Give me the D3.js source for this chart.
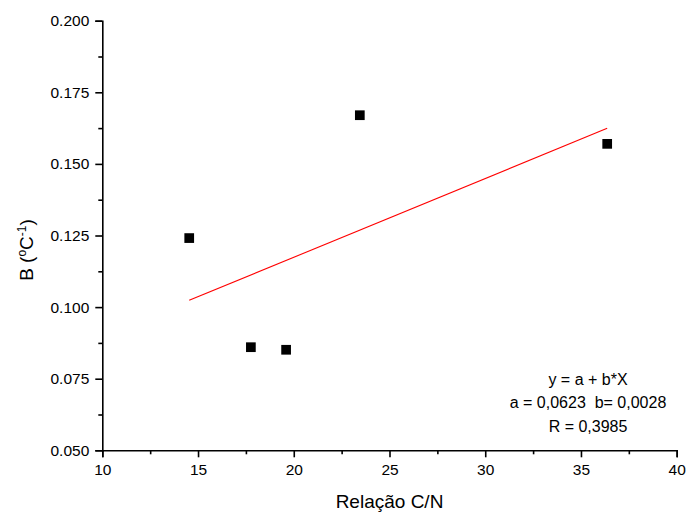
<!DOCTYPE html>
<html>
<head>
<meta charset="utf-8">
<script src="https://cdn.jsdelivr.net/npm/d3@7"></script>
<style>
  html, body { margin: 0; padding: 0; background: #fff; }
  svg { display: block; font-family: "Liberation Sans", Arial, sans-serif; }
  text { white-space: pre; }
</style>
</head>
<body>
<svg id="chart" width="687" height="513"></svg>
<script>
// C/N ratio (x) and coefficient B in °C^-1 (y)
const ratioCN = [14.54, 17.76, 19.60, 23.45, 36.37];
const coefB   = [0.1241, 0.0860, 0.0851, 0.1670, 0.1570];

const xTicks = [10, 15, 20, 25, 30, 35, 40];
const yTicks = [0.050, 0.075, 0.100, 0.125, 0.150, 0.175, 0.200];
const xMinor = [12.5, 17.5, 22.5, 27.5, 32.5, 37.5];
const yMinor = [0.0625, 0.0875, 0.1125, 0.1375, 0.1625, 0.1875];

const fitLines = ["y = a + b*X", "a = 0,0623  b= 0,0028", "R = 0,3985"];

const W = 687, H = 513;
const margin = { top: 20.7, right: 10.3, bottom: 62.7, left: 102.3 };

const svg = d3.select("#chart");
const x = d3.scaleLinear().domain([10, 40]).range([margin.left, W - margin.right]);
const y = d3.scaleLinear().domain([0.05, 0.2]).range([H - margin.bottom, margin.top]);

// least-squares line through the points
const mx = d3.mean(ratioCN), my = d3.mean(coefB);
const sxy = d3.sum(ratioCN, (v, i) => (v - mx) * (coefB[i] - my));
const sxx = d3.sum(ratioCN, v => (v - mx) * (v - mx));
const slope = sxy / sxx;
const intercept = my - slope * mx;
const xExt = d3.extent(ratioCN);

svg.append("line")
  .attr("x1", x(xExt[0])).attr("y1", y(intercept + slope * xExt[0]))
  .attr("x2", x(xExt[1])).attr("y2", y(intercept + slope * xExt[1]))
  .attr("stroke", "#ff0000").attr("stroke-width", 1.1);

// data squares
const sq = 9.7;
svg.append("g").selectAll("rect")
  .data(ratioCN.map((v, i) => [v, coefB[i]]))
  .join("rect")
  .attr("x", d => x(d[0]) - sq / 2)
  .attr("y", d => y(d[1]) - sq / 2)
  .attr("width", sq).attr("height", sq)
  .attr("fill", "#000");

// axes
const xAxis = svg.append("g")
  .attr("transform", `translate(0,${H - margin.bottom})`)
  .call(d3.axisBottom(x).tickValues(xTicks).tickSizeOuter(0).tickSize(7).tickPadding(7)
    .tickFormat(d3.format("d")));
svg.append("g")
  .attr("transform", `translate(0,${H - margin.bottom})`)
  .call(d3.axisBottom(x).tickValues(xMinor).tickSizeOuter(0).tickSize(4).tickFormat(""))
  .call(g => g.select(".domain").remove());

const yAxis = svg.append("g")
  .attr("transform", `translate(${margin.left},0)`)
  .call(d3.axisLeft(y).tickValues(yTicks).tickSizeOuter(0).tickSize(7).tickPadding(6)
    .tickFormat(d3.format(".3f")));
svg.append("g")
  .attr("transform", `translate(${margin.left},0)`)
  .call(d3.axisLeft(y).tickValues(yMinor).tickSizeOuter(0).tickSize(4).tickFormat(""))
  .call(g => g.select(".domain").remove());

svg.selectAll(".domain, .tick line")
  .attr("stroke", "#000").attr("stroke-width", 1.6);
svg.selectAll(".tick text")
  .attr("fill", "#000")
  .style("font-size", "15.5px")
  .style("font-family", "'Liberation Sans', Arial, sans-serif");

// axis titles
svg.append("text")
  .attr("x", (margin.left + W - margin.right) / 2)
  .attr("y", 508)
  .attr("text-anchor", "middle")
  .style("font-size", "19px")
  .text("Relação C/N");

const yt = svg.append("text")
  .attr("transform", "translate(33,250) rotate(-90)")
  .attr("text-anchor", "middle")
  .style("font-size", "19px");
yt.append("tspan").text("B (");
yt.append("tspan").attr("dy", -7).style("font-size", "12px").text("o");
yt.append("tspan").attr("dy", 7).text("C");
yt.append("tspan").attr("dy", -7).style("font-size", "12px").text("-1");
yt.append("tspan").attr("dy", 7).text(")");

// fit annotation
svg.append("g").selectAll("text")
  .data(fitLines)
  .join("text")
  .attr("x", 588)
  .attr("y", (d, i) => 385 + i * 23.3)
  .attr("text-anchor", "middle")
  .style("font-size", "16px")
  .text(d => d);
</script>
</body>
</html>
